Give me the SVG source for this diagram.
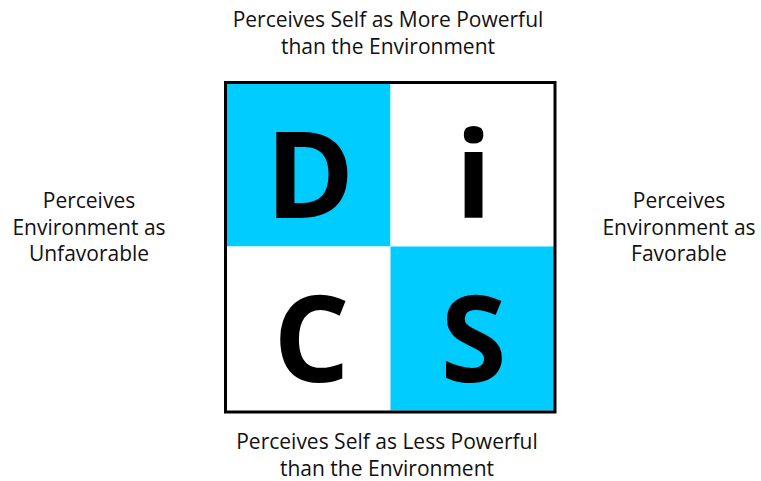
<svg xmlns="http://www.w3.org/2000/svg" width="761" height="481" viewBox="0 0 761 481">
<style>
.lbl{font-family:"Open Sans","Noto Sans","Liberation Sans",sans-serif;font-size:21px;fill:#111;text-anchor:middle}
.big{font-family:"Open Sans","Noto Sans","Liberation Sans",sans-serif;font-weight:bold;font-size:120px;fill:#000;text-anchor:middle}
.cyan{fill:#00CCFF}
.white{fill:#FFFFFF}
</style>
<rect width="761" height="481" fill="#FFFFFF"/>
<g id="cell-D"><rect class="cyan" x="227" y="84" width="163.5" height="162.5"/><text class="big" x="310" y="218">D</text></g>
<g id="cell-i"><rect class="white" x="390.5" y="84" width="163.5" height="162.5"/><text class="big" x="473.5" y="218">i</text></g>
<g id="cell-C"><rect class="white" x="227" y="246.5" width="163.5" height="164"/><text class="big" x="311.5" y="382">C</text></g>
<g id="cell-S"><rect class="cyan" x="390.5" y="246.5" width="163.5" height="164"/><text class="big" x="473.5" y="382">S</text></g>
<g id="frame"><rect x="225.5" y="82.5" width="329.5" height="329.5" fill="none" stroke="#000" stroke-width="3"/></g>
<g id="label-top"><text class="lbl" x="388" y="27">Perceives Self as More Powerful</text><text class="lbl" x="388" y="53.5">than the Environment</text></g>
<g id="label-bottom"><text class="lbl" x="387" y="449">Perceives Self as Less Powerful</text><text class="lbl" x="387" y="475.5">than the Environment</text></g>
<g id="label-left"><text class="lbl" x="89" y="208">Perceives</text><text class="lbl" x="89" y="234.5">Environment as</text><text class="lbl" x="89" y="261">Unfavorable</text></g>
<g id="label-right"><text class="lbl" x="679" y="208">Perceives</text><text class="lbl" x="679" y="234.5">Environment as</text><text class="lbl" x="679" y="261">Favorable</text></g>
</svg>
